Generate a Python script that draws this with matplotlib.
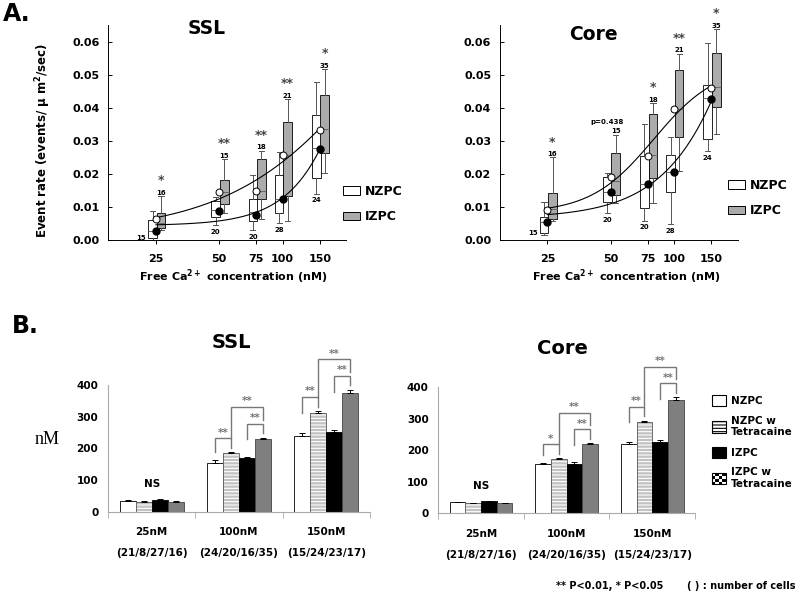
import numpy as np
import matplotlib
matplotlib.use('Agg')
import matplotlib.pyplot as plt
from matplotlib.patches import Patch, Rectangle
from matplotlib.legend_handler import HandlerBase

plt.rcParams['font.family'] = ['DejaVu Sans']
plt.rcParams['font.weight'] = 'bold'
plt.rcParams['mathtext.default'] = 'regular'
plt.rcParams['hatch.linewidth'] = 0.8

# ---- panel A data (event rate, events/um2/sec) ----
conc = [25, 50, 75, 100, 150]

ssl_nz_lo = [0.0000, 0.0045, 0.0030, 0.0050, 0.0139]
ssl_nz_q1 = [0.0005, 0.0069, 0.0058, 0.0083, 0.0187]
ssl_nz_med = [0.0026, 0.0092, 0.0086, 0.0123, 0.0278]
ssl_nz_q3 = [0.0059, 0.0118, 0.0123, 0.0195, 0.0377]
ssl_nz_hi = [0.0087, 0.0131, 0.0197, 0.0265, 0.0478]
ssl_nz_mean = [0.0026, 0.0089, 0.0076, 0.0123, 0.0275]

ssl_iz_lo = [0.0030, 0.0082, 0.0063, 0.0057, 0.0202]
ssl_iz_q1 = [0.0035, 0.0109, 0.0123, 0.0134, 0.0263]
ssl_iz_med = [0.0050, 0.0145, 0.0149, 0.0258, 0.0335]
ssl_iz_q3 = [0.0081, 0.0182, 0.0245, 0.0357, 0.0438]
ssl_iz_hi = [0.0133, 0.0245, 0.0270, 0.0426, 0.0517]
ssl_iz_mean = [0.0063, 0.0145, 0.0148, 0.0257, 0.0334]

core_nz_lo = [0.0015, 0.0081, 0.0058, 0.0047, 0.0268]
core_nz_q1 = [0.0020, 0.0116, 0.0096, 0.0146, 0.0305]
core_nz_med = [0.0054, 0.0145, 0.0170, 0.0207, 0.0429]
core_nz_q3 = [0.0071, 0.0190, 0.0255, 0.0258, 0.0469]
core_nz_hi = [0.0116, 0.0202, 0.0350, 0.0310, 0.0596]
core_nz_mean = [0.0053, 0.0146, 0.0170, 0.0207, 0.0426]

core_iz_lo = [0.0056, 0.0111, 0.0111, 0.0209, 0.0320]
core_iz_q1 = [0.0063, 0.0136, 0.0187, 0.0311, 0.0402]
core_iz_med = [0.0093, 0.0177, 0.0257, 0.0397, 0.0463]
core_iz_q3 = [0.0143, 0.0263, 0.0381, 0.0513, 0.0566]
core_iz_hi = [0.0250, 0.0318, 0.0414, 0.0563, 0.0638]
core_iz_mean = [0.0091, 0.0190, 0.0255, 0.0396, 0.0461]

nz_n = [15, 20, 20, 28, 24]
iz_n = [16, 15, 18, 21, 35]
ssl_sig = ['*', '**', '**', '**', '*']
core_sig = ['*', 'p=0.438', '*', '**', '*']

# ---- panel B data (nM) ----
groups = ['25nM', '100nM', '150nM']
ncells = ['(21/8/27/16)', '(24/20/16/35)', '(15/24/23/17)']
b_labels = ['NZPC', 'NZPC w\nTetracaine', 'IZPC', 'IZPC w\nTetracaine']

ssl_nzpc = [35, 155, 240]
ssl_nzpc_tet = [32, 184, 313]
ssl_izpc = [38, 168, 251]
ssl_izpc_tet = [31, 228, 374]
ssl_nzpc_err = [2, 8, 8]
ssl_nzpc_tet_err = [2, 3, 4]
ssl_izpc_err = [2, 6, 8]
ssl_izpc_tet_err = [2, 5, 10]

core_nzpc = [35, 155, 220]
core_nzpc_tet = [32, 171, 291]
core_izpc = [39, 158, 226]
core_izpc_tet = [32, 219, 360]
core_nzpc_err = [1, 6, 6]
core_nzpc_tet_err = [2, 3, 3]
core_izpc_err = [1, 6, 6]
core_izpc_tet_err = [1, 3, 8]

# (group, bar i, bar j, label)
ssl_brackets = [(1, 0, 1, '**'), (1, 2, 3, '**'), (1, 1, 3, '**'),
                (2, 0, 1, '**'), (2, 2, 3, '**'), (2, 1, 3, '**')]
core_brackets = [(1, 0, 1, '*'), (1, 2, 3, '**'), (1, 1, 3, '**'),
                 (2, 0, 1, '**'), (2, 2, 3, '**'), (2, 1, 3, '**')]

W, H = 800, 594
fig = plt.figure(figsize=(8, 5.94), dpi=100)


def fbox(x0, y0, x1, y1):
    # pixel box (top-left origin) -> figure rect
    return [x0 / W, 1 - y1 / H, (x1 - x0) / W, (y1 - y0) / H]


PX_DEC = 210.0


def shift(c, px):
    return np.asarray(c, float) * 10 ** (px / PX_DEC)


def hill_fit(x, y):
    # y = y0 + a * x^n / (k^n + x^n), grid over k and n, least squares for y0, a
    x = np.asarray(x, float)
    y = np.asarray(y, float)
    K, N = np.meshgrid(np.linspace(40, 400, 181), np.linspace(1, 6, 51), indexing='ij')
    F = x ** N[..., None] / (K[..., None] ** N[..., None] + x ** N[..., None])
    fm = F.mean(-1, keepdims=True)
    ym = y.mean()
    a = ((F - fm) * (y - ym)).sum(-1) / ((F - fm) ** 2).sum(-1)
    y0 = ym - a * fm[..., 0]
    sse = ((y0[..., None] + a[..., None] * F - y) ** 2).sum(-1)
    i = np.unravel_index(np.argmin(sse), sse.shape)
    k, n = K[i], N[i]
    return lambda t: y0[i] + a[i] * t ** n / (k ** n + t ** n)


def box_panel(ax, nz, iz, nz_mean, iz_mean, sig):
    ax.set_xscale('log')
    ax.set_xlim(14.8, 200)
    ax.set_ylim(0, 0.065)
    for (data, off, fc) in [(nz, -3.5, 'white'), (iz, 5.0, '#ababab')]:
        left = shift(conc, off - 4.3)
        right = shift(conc, off + 4.3)
        pos = (left + right) / 2
        wid = right - left
        stats = []
        for k in range(len(conc)):
            stats.append(dict(whislo=data[0][k], q1=data[1][k], med=data[2][k],
                              q3=data[3][k], whishi=data[4][k], fliers=[]))
        ax.bxp(stats, positions=pos, widths=wid, capwidths=wid * 0.6,
               patch_artist=True, showfliers=False, manage_ticks=False,
               boxprops=dict(facecolor=fc, edgecolor='black', lw=0.6),
               whiskerprops=dict(color='#555555', lw=0.7),
               capprops=dict(color='#555555', lw=0.7),
               medianprops=dict(color='#666666', lw=0.7))
    xs = np.linspace(25, 150, 200)
    ax.plot(xs, hill_fit(conc, iz_mean)(xs), color='black', lw=0.8, zorder=4)
    ax.plot(xs, hill_fit(conc, nz_mean)(xs), color='black', lw=0.8, zorder=4)
    ax.plot(conc, iz_mean, 'o', mfc='white', mec='black', ms=5, mew=0.7, zorder=5)
    ax.plot(conc, nz_mean, 'o', color='black', ms=5, zorder=5)

    izc = shift(conc, 5.0)
    nzc = shift(conc, -3.5)
    for k in range(len(conc)):
        ax.annotate(str(iz_n[k]), (izc[k], iz[4][k]), xytext=(0, 0.3),
                    textcoords='offset points', ha='center', va='bottom', fontsize=5)
        if sig[k].startswith('p'):
            ax.annotate(sig[k], (izc[k], iz[4][k]), xytext=(-6, 7),
                        textcoords='offset points', ha='center', va='bottom', fontsize=5)
        else:
            ax.annotate(sig[k], (izc[k], iz[4][k]), xytext=(0, 6.3),
                        textcoords='offset points', ha='center', va='bottom',
                        fontsize=9, color='#444444')
        if k == 0:
            ax.annotate(str(nz_n[k]), (shift(conc[k], -8), nz[0][k]), xytext=(-1.5, -1),
                        textcoords='offset points', ha='right', va='bottom', fontsize=5)
        else:
            ax.annotate(str(nz_n[k]), (nzc[k], nz[0][k]), xytext=(0, -2.5),
                        textcoords='offset points', ha='center', va='top', fontsize=5)

    ax.set_xticks(conc)
    ax.set_xticklabels([str(c) for c in conc])
    ax.xaxis.set_minor_locator(matplotlib.ticker.NullLocator())
    ax.set_yticks([0, 0.01, 0.02, 0.03, 0.04, 0.05, 0.06])
    ax.set_yticklabels(['0.00', '0.01', '0.02', '0.03', '0.04', '0.05', '0.06'])
    ax.tick_params(axis='x', direction='out', length=3, width=0.7, labelsize=8, pad=7)
    ax.tick_params(axis='y', direction='in', length=3, width=0.7, labelsize=8, pad=6)
    for s in ['top', 'right']:
        ax.spines[s].set_visible(False)
    for s in ['left', 'bottom']:
        ax.spines[s].set_linewidth(0.7)
    ax.patch.set_alpha(0)


ax1 = fig.add_axes(fbox(108, 25, 346, 240))
box_panel(ax1,
          (ssl_nz_lo, ssl_nz_q1, ssl_nz_med, ssl_nz_q3, ssl_nz_hi),
          (ssl_iz_lo, ssl_iz_q1, ssl_iz_med, ssl_iz_q3, ssl_iz_hi),
          ssl_nz_mean, ssl_iz_mean, ssl_sig)
ax2 = fig.add_axes(fbox(499.5, 25, 737.5, 240))
box_panel(ax2,
          (core_nz_lo, core_nz_q1, core_nz_med, core_nz_q3, core_nz_hi),
          (core_iz_lo, core_iz_q1, core_iz_med, core_iz_q3, core_iz_hi),
          core_nz_mean, core_iz_mean, core_sig)

a_handles = [Patch(facecolor='white', edgecolor='black', lw=0.7),
             Patch(facecolor='#ababab', edgecolor='black', lw=0.7)]
for ax, x0, yc in [(ax1, 343, 204), (ax2, 728, 198)]:
    ax.legend(a_handles, ['NZPC', 'IZPC'], loc='center left',
              bbox_to_anchor=(x0 / W, 1 - yc / H), bbox_transform=fig.transFigure,
              frameon=False, fontsize=9, handlelength=1.35, handleheight=0.65,
              handletextpad=0.4, labelspacing=1.0, borderpad=0, borderaxespad=0)

fig.text(3 / W, 1 - 2 / H, 'A.', fontsize=17, ha='left', va='top')
fig.text(207 / W, 1 - 29 / H, 'SSL', fontsize=13.5, ha='center', va='center')
fig.text(593 / W, 1 - 34 / H, 'Core', fontsize=13.5, ha='center', va='center')
fig.text(43 / W, 1 - 140 / H, 'Event rate (events/ μ m$^2$/sec)', fontsize=8.5,
         rotation=90, ha='center', va='center')
for xc in [233, 626]:
    fig.text(xc / W, 1 - 277 / H, 'Free Ca$^{2+}$ concentration (nM)', fontsize=8,
             ha='center', va='center')


# ---- panel B ----
class CheckerHandler(HandlerBase):
    def create_artists(self, legend, orig_handle, xdescent, ydescent, width,
                       height, fontsize, trans):
        n = 4
        arts = []
        for i in range(n):
            for j in range(n):
                fc = 'black' if (i + j) % 2 == 0 else 'white'
                arts.append(Rectangle((-xdescent + i * width / n, -ydescent + j * height / n),
                                      width / n, height / n, facecolor=fc,
                                      edgecolor='none', transform=trans))
        arts.append(Rectangle((-xdescent, -ydescent), width, height, facecolor='none',
                              edgecolor='black', lw=0.8, transform=trans))
        return arts


def bar_panel(ax, series, errs, brackets):
    x = np.arange(len(groups))
    w = 0.183
    offs = (np.arange(4) - 1.5) * w
    tops = []
    for k in range(4):
        vals = np.asarray(series[k], float)
        xx = x + offs[k]
        if k == 0:
            ax.bar(xx, vals, w, color='white', edgecolor='black', lw=0.6)
        elif k == 1:
            ax.bar(xx, vals, w, color='#c2c2c2', edgecolor='white', hatch='-----', lw=0)
            ax.bar(xx, vals, w, fill=False, edgecolor='#555555', lw=0.6)
        elif k == 2:
            ax.bar(xx, vals, w, color='black', edgecolor='black', lw=0.6)
        else:
            ax.bar(xx, vals, w, color='#7f7f7f', edgecolor='#444444', lw=0.6)
        ax.errorbar(xx, vals, yerr=[np.zeros(len(vals)), errs[k]], fmt='none',
                    ecolor='black', elinewidth=0.7, capsize=2.5, capthick=0.7)
        tops.append(vals + np.asarray(errs[k]))
    tops = np.array(tops)

    gcol = '#777777'
    for g in range(len(groups)):
        hts = {}
        for (gg, i, j, lab) in brackets:
            if gg != g:
                continue
            if (i, j) in [(0, 1), (2, 3)]:
                h = max(tops[i, g], tops[j, g]) + 45
                yl = max(tops[i, g] + 25, h - 50)
            else:
                h = max(hts.values()) + 52
                yl = hts[(0, 1)]
            yr = max(tops[j, g] + 15, h - 40)
            yr = min(yr, h - 8)
            hts[(i, j)] = h
            xi = x[g] + offs[i]
            xj = x[g] + offs[j]
            ax.plot([xi, xi, xj, xj], [yl, h, h, yr], color=gcol, lw=1.0,
                    clip_on=False, solid_joinstyle='miter')
            ax.annotate(lab, ((xi + xj) / 2, h), xytext=(0, 0.5), textcoords='offset points',
                        ha='center', va='bottom', fontsize=7.5, color=gcol,
                        annotation_clip=False)
    ax.annotate('NS', (x[0], tops[:, 0].max()), xytext=(0, 7), textcoords='offset points',
                ha='center', va='bottom', fontsize=7.5)

    ax.set_xlim(-0.5, 2.5)
    ax.set_ylim(0, 400)
    ax.set_yticks([0, 100, 200, 300, 400])
    ax.set_xticks(x)
    ax.set_xticklabels(groups)
    ax.set_xticks([-0.5, 0.5, 1.5, 2.5], minor=True)
    ax.tick_params(axis='x', which='major', length=0, labelsize=7.5, pad=11)
    ax.tick_params(axis='x', which='minor', length=4, color='#aaaaaa', direction='out')
    ax.tick_params(axis='y', length=0, labelsize=7.5, pad=7)
    for s in ['top', 'right']:
        ax.spines[s].set_visible(False)
    for s in ['left', 'bottom']:
        ax.spines[s].set_color('#aaaaaa')
        ax.spines[s].set_linewidth(0.8)
    for g in range(len(groups)):
        ax.text(x[g], -0.328, ncells[g], transform=ax.get_xaxis_transform(),
                ha='center', va='center', fontsize=7.5)
    ax.patch.set_alpha(0)


ax3 = fig.add_axes(fbox(108, 385, 370, 511.7))
bar_panel(ax3, [ssl_nzpc, ssl_nzpc_tet, ssl_izpc, ssl_izpc_tet],
          [ssl_nzpc_err, ssl_nzpc_tet_err, ssl_izpc_err, ssl_izpc_tet_err], ssl_brackets)
ax4 = fig.add_axes(fbox(438.3, 387.3, 695, 513.3))
bar_panel(ax4, [core_nzpc, core_nzpc_tet, core_izpc, core_izpc_tet],
          [core_nzpc_err, core_nzpc_tet_err, core_izpc_err, core_izpc_tet_err], core_brackets)

checker = Patch(facecolor='white', edgecolor='black')
b_handles = [Patch(facecolor='white', edgecolor='black', lw=0.8),
             Patch(facecolor='white', edgecolor='black', hatch='-----', lw=0.8),
             Patch(facecolor='black', edgecolor='black', lw=0.8),
             checker]
fig.legend(b_handles, b_labels, loc='upper left', bbox_to_anchor=(712 / W, 1 - 395 / H),
           frameon=False, fontsize=7.5, handlelength=1.3, handleheight=1.3,
           handletextpad=0.5, labelspacing=0.9, borderpad=0, borderaxespad=0,
           handler_map={checker: CheckerHandler()})

fig.text(12 / W, 1 - 326 / H, 'B.', fontsize=17, ha='left', va='center')
fig.text(231 / W, 1 - 342 / H, 'SSL', fontsize=14, ha='center', va='center')
fig.text(562 / W, 1 - 348 / H, 'Core', fontsize=14, ha='center', va='center')
fig.text(47.5 / W, 1 - 440 / H, 'nM', fontsize=13, ha='center', va='center',
         family='Liberation Serif', weight='normal')
fig.text(556 / W, 1 - 586 / H, '** P<0.01, * P<0.05', fontsize=7, ha='left', va='center')
fig.text(687 / W, 1 - 586 / H, '( ) : number of cells', fontsize=7, ha='left', va='center')

fig.savefig('out.png', dpi=100)
